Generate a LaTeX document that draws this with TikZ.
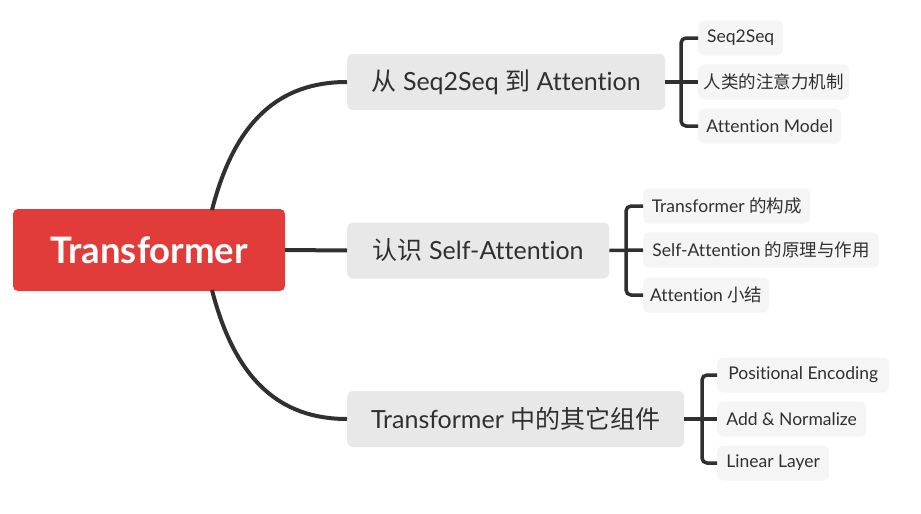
\documentclass[tikz,border=0pt]{standalone}
\usepackage{fontspec}
\setmainfont{Lato}[Ligatures=NoCommon]
\newfontfamily\zh{Noto Sans CJK SC}
\usetikzlibrary{positioning}

\definecolor{rootred}{RGB}{226,60,58}
\definecolor{topicgray}{RGB}{232,232,232}
\definecolor{leafgray}{RGB}{245,245,245}
\definecolor{inkgray}{RGB}{48,48,48}

\tikzset{
  rootbox/.style={rectangle, rounded corners=5pt, fill=rootred, text=white,
    font=\bfseries\fontsize{36.5}{40}\selectfont, minimum width=272pt,
    minimum height=82pt, inner sep=0pt},
  topicbox/.style={rectangle, rounded corners=6pt, fill=topicgray, text=inkgray,
    font=\fontsize{25}{28}\selectfont, minimum height=56pt, anchor=west, inner sep=0pt},
  leafbox/.style={rectangle, rounded corners=6pt, fill=leafgray, text=inkgray,
    font=\fontsize{17.5}{20}\selectfont, minimum height=35pt, anchor=west, inner sep=0pt},
  branch/.style={line width=4pt, draw=inkgray},
  bracket/.style={line width=3.5pt, draw=inkgray, rounded corners=5pt},
}

\begin{document}
\begin{tikzpicture}[x=1pt, y=-1pt]
    \useasboundingbox (0,0) rectangle (921,514);

    % 中心主题
    \node[rootbox] (root) at (149,250) {Transformer};

    % 一级主题
    \node[topicbox, minimum width=318pt] (seq) at (347,82) {{\zh 从} Seq2Seq {\zh 到} Attention};
    \node[topicbox, minimum width=262pt] (self) at (347,250.5) {{\zh 认识} Self-Attention};
    \node[topicbox, minimum width=337pt] (other) at (347,419) {Transformer {\zh 中的其它组件}};

    % 主干连线
    \coordinate (rootTop) at (212,210);
    \coordinate (rootBottom) at (212,290);
    \draw[branch] (rootTop) .. controls (235,120) and (280,82) .. (seq.west);
    \draw[branch] (root.east) -- (self.west);
    \draw[branch] (rootBottom) .. controls (235,380) and (280,419) .. (other.west);

    % 子主题：从 Seq2Seq 到 Attention
    \node[leafbox, minimum width=85pt] (seqA) at (698,38) {Seq2Seq};
    \node[leafbox, minimum width=151pt] (seqB) at (698,82) {\zh 人类的注意力机制};
    \node[leafbox, minimum width=143pt] (seqC) at (698,126) {Attention Model};
    \coordinate (seqSpine) at (681,82);
    \draw[bracket] (seq.east) -- (seqB.west);
    \draw[bracket] (seqA.west) -| (seqSpine) |- (seqC.west);

    % 子主题：认识 Self-Attention
    \node[leafbox, minimum width=167pt] (selfA) at (643,206) {Transformer {\zh 的构成}};
    \node[leafbox, minimum width=236pt] (selfB) at (643,250) {Self-Attention {\zh 的原理与作用}};
    \node[leafbox, minimum width=126pt] (selfC) at (643,295) {Attention {\zh 小结}};
    \coordinate (selfSpine) at (626,250);
    \draw[bracket] (self.east) -- (selfB.west);
    \draw[bracket] (selfA.west) -| (selfSpine) |- (selfC.west);

    % 子主题：Transformer 中的其它组件
    \node[leafbox, minimum width=172pt] (otherA) at (717,375) {Positional Encoding};
    \node[leafbox, minimum width=149pt] (otherB) at (717,419) {Add \& Normalize};
    \node[leafbox, minimum width=112pt] (otherC) at (717,463) {Linear Layer};
    \coordinate (otherSpine) at (702,419);
    \draw[bracket] (other.east) -- (otherB.west);
    \draw[bracket] (otherA.west) -| (otherSpine) |- (otherC.west);

\end{tikzpicture}
\end{document}
